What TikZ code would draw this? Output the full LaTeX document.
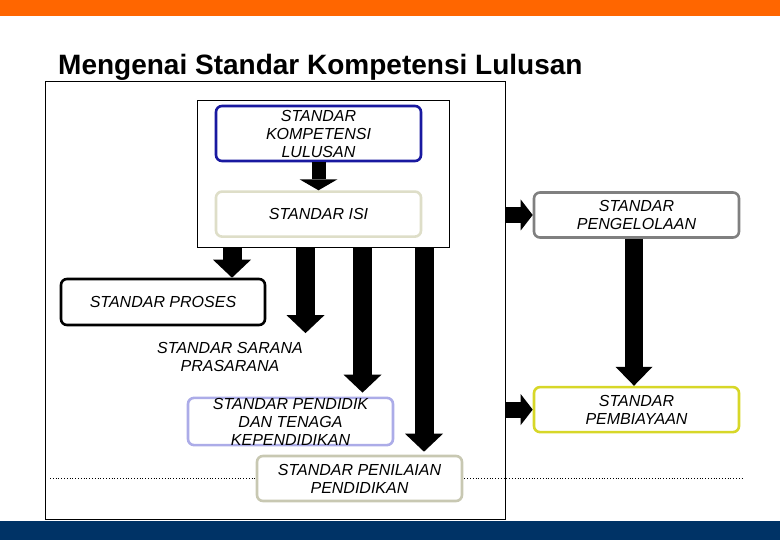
\documentclass[tikz,border=0pt]{standalone}
\usepackage{fontspec}
\setmainfont{Liberation Sans}
\usetikzlibrary{arrows.meta, positioning, calc}
\definecolor{topbar}{RGB}{255,102,0}
\definecolor{bottombar}{RGB}{0,51,102}
\definecolor{sklblue}{RGB}{25,25,160}
\definecolor{isibeige}{RGB}{222,222,200}
\definecolor{pendlav}{RGB}{172,172,232}
\definecolor{nilaigrey}{RGB}{200,200,178}
\definecolor{kelolagrey}{RGB}{128,128,128}
\definecolor{biayayellow}{RGB}{215,215,40}

\begin{document}
\begin{tikzpicture}[x=1pt, y=-1pt,
  box/.style={draw, line width=2.6pt, rounded corners=6pt, fill=white, align=center,
    inner sep=0pt, minimum width=205pt, minimum height=45pt,
    font=\fontsize{16}{18}\selectfont\itshape},
  plain/.style={draw, line width=1pt, inner sep=0pt},
  blk/.style={line width=19pt, -{Triangle[length=18pt, width=38pt, line width=0pt]}}]
  \useasboundingbox (0,0) rectangle (780,540);
  \fill[topbar] (0,0) rectangle (780,16);
  \fill[bottombar] (0,521) rectangle (780,540);
  \node[anchor=base west, inner sep=0pt, font=\fontsize{28}{32}\selectfont\bfseries]
    (title) at (58,75) {Mengenai Standar Kompetensi Lulusan};
  \node[plain, minimum width=460pt, minimum height=437pt] (frame) at (275,300.5) {};
  \draw[dotted, line width=0.8pt] (50,478) -- (742,478);
  \node[plain, fill=white, minimum width=252pt, minimum height=147pt] (grp) at (323,174.5) {};
  \node[box, draw=sklblue, minimum height=55pt] (skl) at (318.5,133.5) {STANDAR\\KOMPETENSI\\LULUSAN};
  \node[box, draw=isibeige, below=28pt of skl] (isi) {STANDAR ISI};
  \node[box, draw=black, minimum width=204pt, minimum height=46pt] (proses) at (163,302) {STANDAR PROSES};
  \node[align=center, inner sep=0pt, font=\fontsize{16}{18}\selectfont\itshape]
    (sarana) at (230,357) {STANDAR SARANA\\PRASARANA};
  \node[box, draw=pendlav] (pendidik) at (290.5,421.5) {STANDAR PENDIDIK\\DAN TENAGA\\KEPENDIDIKAN};
  \node[box, draw=nilaigrey] (penilaian) at (359.5,478.5) {STANDAR PENILAIAN\\PENDIDIKAN};
  \node[box, draw=kelolagrey] (pengelolaan) at (636.5,215) {STANDAR\\PENGELOLAAN};
  \node[box, draw=biayayellow, below=147pt of pengelolaan] (pembiayaan) {STANDAR\\PEMBIAYAAN};
  % block arrows
  \draw[blk, line width=14pt, -{Triangle[length=11pt, width=38pt, line width=0pt]}] (skl) -- (isi);
  \foreach \dx/\tgt/\gap in {-91/proses/0, -17.5/sarana/9, 39.5/pendidik/4, 101/penilaian/3} {
    \coordinate (o) at ([xshift=\dx pt]grp.south);
    \draw[blk] (o) -- ($(o |- \tgt.north)+(0,-\gap)$);
  }
  \foreach \tgt in {pengelolaan, pembiayaan}
    \draw[blk, line width=16pt, -{Triangle[length=12pt, width=31pt, line width=0pt]}]
      (frame.east |- \tgt.west) -- (\tgt.west);
  \draw[blk, line width=18pt, -{Triangle[length=19pt, width=37pt, line width=0pt]}]
    ([xshift=-2.5pt]pengelolaan.south) -- ([xshift=-2.5pt]pembiayaan.north);
\end{tikzpicture}
\end{document}
